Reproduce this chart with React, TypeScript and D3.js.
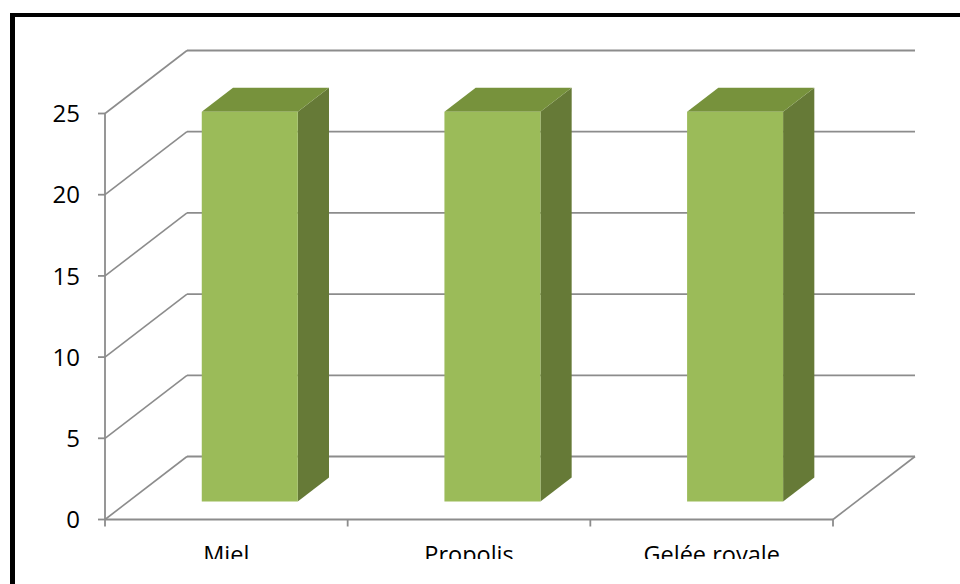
import React from "react";
import * as d3 from "d3";

// Categories and their values
const categories: string[] = ["Miel", "Propolis", "Gelée royale"];
const values: number[] = [24, 24, 24];
const yTicks: number[] = [0, 5, 10, 15, 20, 25];

const W = 960;
const H = 584;

// Front plane of the 3D plot area
const X0 = 105;
const X1 = 833;
const Y0 = 519.5;
const YTOP = 113.5;
// Depth offset of the back wall
const DX = 82;
const DY = -63;
// Bars sit between these depth fractions
const F0 = 18 / 63;
const F1 = 42 / 63;
const BAR_W = 96;

const GRID = "#8c8c8c";
const FRONT = "#9bbb59";
const SIDE = "#667a37";
const TOP = "#77923c";
const FONT = "'Open Sans', sans-serif";

export default function App() {
  const y = d3.scaleLinear().domain([0, 25]).range([Y0, YTOP]);
  const x = d3.scaleBand<string>().domain(categories).range([X0, X1]);

  const pts = (arr: [number, number][]) => arr.map((p) => p.join(",")).join(" ");

  return (
    <svg
      width={W}
      height={H}
      style={{ position: "absolute", left: 0, top: 0, background: "#fff" }}
    >
      <defs>
        <clipPath id="labelClip">
          <rect x={0} y={0} width={W} height={559} />
        </clipPath>
      </defs>

      {/* frame */}
      <line x1={12.5} x2={12.5} y1={13} y2={H} stroke="#000" strokeWidth={5} />
      <line x1={10} x2={W} y1={15} y2={15} stroke="#000" strokeWidth={4} />

      {/* back wall gridlines and side-wall diagonals */}
      {yTicks.map((t) => (
        <g key={t}>
          <line
            x1={X0 + DX}
            x2={X1 + DX}
            y1={y(t) + DY}
            y2={y(t) + DY}
            stroke={GRID}
            strokeWidth={1.8}
          />
          <line
            x1={X0}
            x2={X0 + DX}
            y1={y(t)}
            y2={y(t) + DY}
            stroke={GRID}
            strokeWidth={1.6}
          />
          <line x1={X0 - 7} x2={X0} y1={y(t)} y2={y(t)} stroke={GRID} strokeWidth={1.8} />
          <text
            x={80}
            y={y(t)}
            dy="0.36em"
            textAnchor="end"
            fontFamily={FONT}
            fontSize={24}
            fill="#000"
          >
            {t}
          </text>
        </g>
      ))}

      {/* floor */}
      <line x1={X1} x2={X1 + DX} y1={Y0} y2={Y0 + DY} stroke={GRID} strokeWidth={1.6} />
      <line x1={X0} x2={X1} y1={Y0} y2={Y0} stroke={GRID} strokeWidth={1.8} />
      <line x1={X0} x2={X0} y1={y(25)} y2={Y0} stroke={GRID} strokeWidth={1.8} />
      {[...categories.map((c) => x(c) as number), X1].map((px, i) => (
        <line key={i} x1={px} x2={px} y1={Y0} y2={Y0 + 7} stroke={GRID} strokeWidth={1.8} />
      ))}

      {/* bars */}
      {categories.map((c, i) => {
        const cx = (x(c) as number) + x.bandwidth() / 2;
        const fx = cx + F0 * DX - BAR_W / 2;
        const fy = F0 * DY;
        const bx = (F1 - F0) * DX;
        const by = (F1 - F0) * DY;
        const yt = y(values[i]) + fy;
        const yb = y(0) + fy;
        const xr = fx + BAR_W;
        return (
          <g key={c}>
            <polygon
              points={pts([
                [xr, yt],
                [xr + bx, yt + by],
                [xr + bx, yb + by],
                [xr, yb],
              ])}
              fill={SIDE}
            />
            <polygon
              points={pts([
                [fx, yt],
                [fx + bx, yt + by],
                [xr + bx, yt + by],
                [xr, yt],
              ])}
              fill={TOP}
            />
            <rect x={fx} y={yt} width={BAR_W} height={yb - yt} fill={FRONT} />
          </g>
        );
      })}

      {/* category labels */}
      <g clipPath="url(#labelClip)">
        {categories.map((c) => (
          <text
            key={c}
            x={(x(c) as number) + x.bandwidth() / 2}
            y={563}
            textAnchor="middle"
            fontFamily={FONT}
            fontSize={23.5}
            fill="#000"
          >
            {c}
          </text>
        ))}
      </g>
    </svg>
  );
}
